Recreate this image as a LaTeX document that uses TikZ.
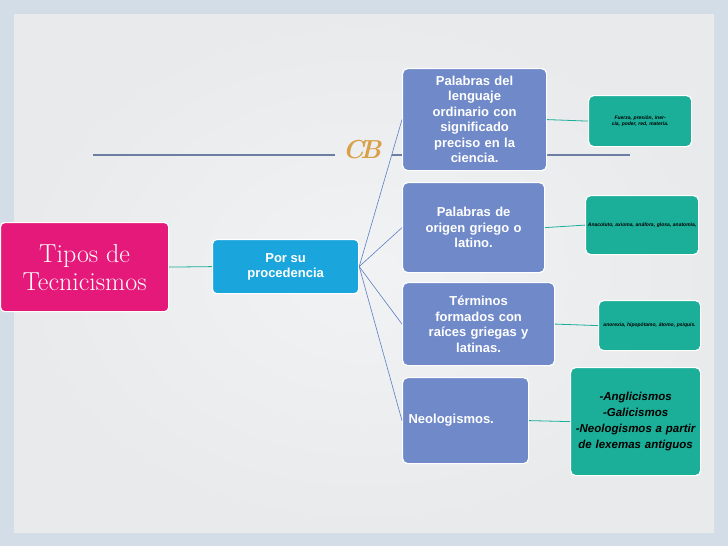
\documentclass[tikz,border=0pt]{standalone}
\usepackage{fontspec}
\setsansfont{Liberation Sans}
\begin{document}
\begin{tikzpicture}[x=1pt,y=-1pt,
 blue/.style={draw=white,line width=1.2pt,fill=blueF,rounded corners=5pt,text=white,font=\sffamily\bfseries\fontsize{13}{15.5}\selectfont,align=center,anchor=north west,inner sep=2pt},
 teal/.style={draw=white,line width=1.2pt,fill=tealF,rounded corners=5pt,font=\sffamily\bfseries\itshape,align=center,anchor=north west,inner sep=2pt},
 fan/.style={draw=fanC,line width=0.6pt},
 tl/.style={draw=tealF,line width=0.8pt}]
\definecolor{blueF}{HTML}{7089C9}
\definecolor{tealF}{HTML}{1BAE98}
\definecolor{fanC}{HTML}{5B7FC4}
\definecolor{pinkF}{HTML}{E4197A}
\definecolor{cyanF}{HTML}{1AA6DD}
\definecolor{goldC}{HTML}{D9A04A}
\definecolor{bgC}{HTML}{E8EAEC}
\definecolor{edgeC}{HTML}{D3DDE8}
\useasboundingbox (0,0) rectangle (728,546);
\fill[edgeC] (0,0) rectangle (728,546);
\shade[inner color=bgC!60!white, outer color=bgC] (14,14) rectangle (714,532);
\draw[fanC!55!gray,line width=1.5pt] (93,155) -- (335,155) (392,155) -- (630,155);
\node[text=goldC,font=\bfseries\itshape\fontsize{26}{26}\selectfont] (orn) at (362,150) {\textit{C\kern-4pt B}};
\node[fill=pinkF,draw=white,line width=1.2pt,rounded corners=4pt,minimum width=168pt,minimum height=89pt,text=white,font=\fontsize{26}{28}\selectfont,align=center,anchor=north west,inner sep=1pt] (tipos) at (0,222) {Tipos de\\Tecnicismos};
\node[fill=cyanF,draw=white,line width=1.2pt,rounded corners=4pt,minimum width=146pt,minimum height=54pt,text=white,font=\sffamily\bfseries\fontsize{13}{15}\selectfont,align=center,anchor=north west] (proc) at (212,239) {Por su\\procedencia};
\node[blue,minimum width=144pt,minimum height=102pt,text width=130pt] (b1) at (402,68) {Palabras del\\lenguaje\\ordinario con\\significado\\preciso en la\\ciencia.};
\node[blue,minimum width=142pt,minimum height=90pt,text width=128pt] (b2) at (402,182) {Palabras de\\origen griego o\\latino.\\[16pt]};
\node[blue,minimum width=152pt,minimum height=83pt,text width=140pt] (b3) at (402,282) {Términos\\formados con\\raíces griegas y\\latinas.};
\node[blue,minimum width=126pt,minimum height=86pt,text width=114pt,align=left] (b4) at (402,377) {Neologismos.};
\node[teal,minimum width=103pt,minimum height=51pt,text width=97pt,font=\sffamily\bfseries\itshape\fontsize{5}{6}\selectfont] (t1) at (588,95) {Fuerza, presión, inercia, poder, red, materia.};
\node[teal,minimum width=113pt,minimum height=59pt,text width=109pt,font=\sffamily\bfseries\itshape\fontsize{5}{6}\selectfont] (t2) at (585,195) {Anacoluto, axioma, anáfora, glosa, anatomía,};
\node[teal,minimum width=102pt,minimum height=50pt,text width=98pt,font=\sffamily\bfseries\itshape\fontsize{5}{6}\selectfont] (t3) at (598,300) {anorexia, hipopótamo, átomo, psiquis.};
\node[teal,minimum width=130pt,minimum height=108pt,text width=126pt,font=\sffamily\bfseries\itshape\fontsize{11.5}{16}\selectfont] (t4) at (570,367) {-Anglicismos\\-Galicismos\\-Neologismos a partir\\de lexemas antiguos};
\draw[tl] (tipos.east) -- (proc.west);
\foreach \b in {b1,b2,b3,b4} \draw[fan] (proc.east) -- (\b.west);
\draw[tl] (b1.east) -- (t1.west);
\draw[tl] (b2.east) -- (t2.west);
\draw[tl] (b3.east) -- (t3.west);
\draw[tl] (b4.east) -- (t4.west);
\end{tikzpicture}
\end{document}
